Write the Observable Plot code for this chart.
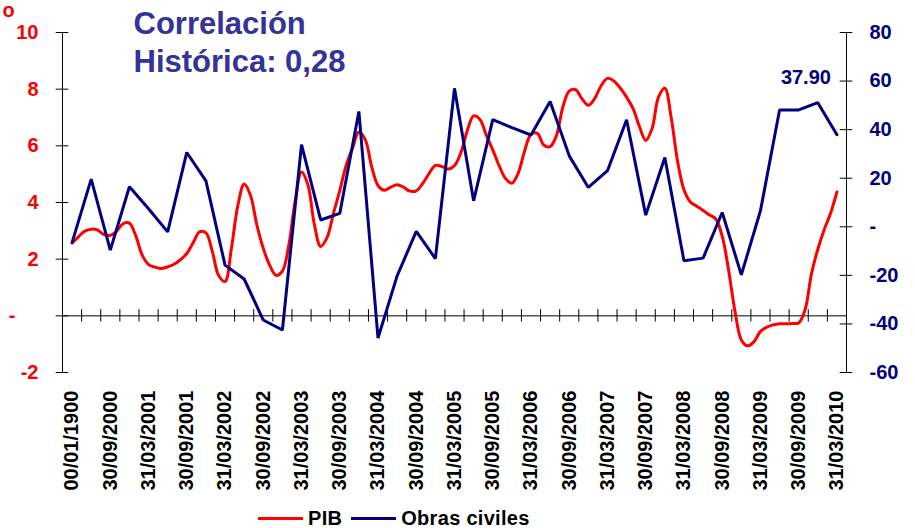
<!DOCTYPE html>
<html><head><meta charset="utf-8">
<script src="https://cdn.jsdelivr.net/npm/d3@7"></script>
<script src="https://cdn.jsdelivr.net/npm/@observablehq/plot@0.6"></script>
<style>
body{margin:0;background:#fff;font-family:"Liberation Sans",Arial,sans-serif;}
#wrap{position:relative;width:915px;height:528px;}
#legend{position:absolute;left:258px;top:508px;height:20px;line-height:20px;display:flex;align-items:center;font-weight:bold;font-size:20px;color:#000;}
#legend .sw{display:inline-block;width:45px;height:3px;margin-right:5px;}
#legend .item{display:flex;align-items:center;margin-right:9px;letter-spacing:0.3px;}
</style></head><body><div id="wrap"></div>
<script>
const quarters = [
  "00/01/1900","30/06/2000","30/09/2000","31/12/2000",
  "31/03/2001","30/06/2001","30/09/2001","31/12/2001",
  "31/03/2002","30/06/2002","30/09/2002","31/12/2002",
  "31/03/2003","30/06/2003","30/09/2003","31/12/2003",
  "31/03/2004","30/06/2004","30/09/2004","31/12/2004",
  "31/03/2005","30/06/2005","30/09/2005","31/12/2005",
  "31/03/2006","30/06/2006","30/09/2006","31/12/2006",
  "31/03/2007","30/06/2007","30/09/2007","31/12/2007",
  "31/03/2008","30/06/2008","30/09/2008","31/12/2008",
  "31/03/2009","30/06/2009","30/09/2009","31/12/2009",
  "31/03/2010"
];
const tickLabels = [
  "00/01/1900","30/09/2000","31/03/2001","30/09/2001","31/03/2002","30/09/2002",
  "31/03/2003","30/09/2003","31/03/2004","30/09/2004","31/03/2005","30/09/2005",
  "31/03/2006","30/09/2006","31/03/2007","30/09/2007","31/03/2008","30/09/2008",
  "31/03/2009","30/09/2009","31/03/2010"
];
// Obras civiles (right axis), one value per quarter
const obrasCiviles = [
  -6.5, 19.6, -9.6, 16.5, 7.4, -2.1, 30.6, 18.9,
  -15.8, -21.5, -38.4, -42.5, 33.8, 2.8, 5.5, 47.5,
  -45.8, -20.2, -1.9, -13.1, 57.0, 10.7, 44.1, 40.8,
  37.8, 51.6, 29.2, 16.2, 23.1, 44.1, 4.8, 28.5,
  -14.0, -12.9, 5.9, -19.8, 6.6, 48.1, 48.1, 51.1,
  37.9
];
// PIB (left axis), monthly values
const pib = [
  2.57, 2.79, 2.99, 3.06, 3.03, 2.87, 2.84, 2.99, 3.25, 3.27,
  2.82, 2.14, 1.81, 1.72, 1.67, 1.73, 1.82, 1.98, 2.20, 2.58,
  2.96, 2.93, 2.28, 1.42, 1.21, 2.38, 3.88, 4.65, 4.25, 3.20,
  2.38, 1.79, 1.43, 1.58, 2.49, 4.05, 5.08, 4.63, 3.24, 2.45,
  2.76, 3.61, 4.42, 5.31, 5.92, 6.49, 6.22, 5.27, 4.60, 4.43,
  4.54, 4.63, 4.54, 4.40, 4.41, 4.67, 5.02, 5.31, 5.27, 5.18,
  5.30, 5.76, 6.53, 7.06, 6.93, 6.37, 5.86, 5.30, 4.85, 4.68,
  5.04, 5.82, 6.40, 6.44, 6.03, 5.97, 6.37, 7.37, 7.93, 7.98,
  7.66, 7.43, 7.67, 8.12, 8.38, 8.29, 8.04, 7.72, 7.32, 6.69,
  6.19, 6.61, 7.72, 8.03, 6.99, 5.45, 4.45, 4.02, 3.87, 3.72,
  3.56, 3.42, 2.81, 1.62, 0.16, -0.85, -1.06, -0.91, -0.55, -0.40,
  -0.32, -0.28, -0.28, -0.27, -0.25, 0.21, 1.48, 2.35, 3.04, 3.62,
  4.37
];
const leftTicks = [10, 8, 6, 4, 2, 0, -2];
const rightTicks = [80, 60, 40, 20, 0, -20, -40, -60];
const titleLines = ["Correlación", "Histórica: 0,28"];
const lastLabel = "37.90";

const RED = "#ff0000", NAVY = "#000080", TITLE = "#333399";
const toLeft = v => -2 + (v + 60) * 12 / 140;
const n = quarters.length;
const boundaries = d3.range(n + 1).map(j => j - 0.5);
const font = "Liberation Sans, Arial, sans-serif";

const chart = Plot.plot({
  width: 915, height: 500,
  marginLeft: 62, marginRight: 69, marginTop: 32, marginBottom: 128,
  style: {fontFamily: font, background: "white"},
  x: {type: "linear", domain: [-0.5, n - 0.5], axis: null},
  y: {domain: [-2, 10], axis: null},
  marks: [
    // axes lines
    Plot.ruleY([0], {x1: -0.5, x2: n - 0.5, stroke: "black", strokeWidth: 1}),
    Plot.ruleX(boundaries, {x: d => d, y1: -0.22, y2: 0.22, stroke: "black", strokeWidth: 1}),
    Plot.ruleX([-0.5], {y1: -2, y2: 10, stroke: "black", strokeWidth: 1}),
    Plot.ruleX([n - 0.5], {y1: -2, y2: 10, stroke: "black", strokeWidth: 1}),
    Plot.ruleY(leftTicks, {y: d => d, x1: -0.83, x2: -0.17, stroke: "black", strokeWidth: 1}),
    Plot.ruleY(rightTicks, {y: d => toLeft(d), x1: n - 0.83, x2: n - 0.17, stroke: "black", strokeWidth: 1}),
    // left labels
    Plot.text(leftTicks.filter(d => d !== 0), {y: d => d, frameAnchor: "left", dx: -24, textAnchor: "end",
      lineAnchor: "middle", text: d => String(d), fill: RED, fontWeight: "bold", fontSize: 20}),
    Plot.text(leftTicks.filter(d => d === 0), {y: d => d, frameAnchor: "left", dx: -47, textAnchor: "end",
      lineAnchor: "middle", text: d => "-", fill: RED, fontWeight: "bold", fontSize: 20}),
    // right labels
    Plot.text(rightTicks, {y: d => toLeft(d), frameAnchor: "right", dx: 23, textAnchor: "start",
      lineAnchor: "middle", text: d => d === 0 ? "-" : String(d), fill: NAVY, fontWeight: "bold", fontSize: 20}),
    // x tick labels
    Plot.text(tickLabels, {x: (d, i) => 2 * i, frameAnchor: "bottom", dy: 18, rotate: -90,
      textAnchor: "end", lineAnchor: "middle", text: d => d, fill: "black", fontWeight: "bold", fontSize: 20}),
    // series
    Plot.line(pib, {x: (d, i) => i / 3, y: d => d, stroke: RED, strokeWidth: 3, curve: "catmull-rom"}),
    Plot.line(obrasCiviles, {x: (d, i) => i, y: d => toLeft(d), stroke: NAVY, strokeWidth: 3, strokeLinejoin: "miter"}),
    // last value label
    Plot.text([obrasCiviles[n - 1]], {x: n - 1, y: d => toLeft(d), dx: -6, dy: -57, textAnchor: "end",
      lineAnchor: "middle", text: () => lastLabel, fill: NAVY, fontWeight: "bold", fontSize: 20}),
    // title
    Plot.text([titleLines[0]], {frameAnchor: "top-left", dx: 71, dy: 1.3, textAnchor: "start", lineAnchor: "bottom",
      text: d => d, fill: TITLE, fontWeight: "bold", fontSize: 31, letterSpacing: "0.3px"}),
    Plot.text([titleLines[1]], {frameAnchor: "top-left", dx: 71, dy: 39.7, textAnchor: "start", lineAnchor: "bottom",
      text: d => d, fill: TITLE, fontWeight: "bold", fontSize: 31, letterSpacing: "0.3px"}),
    Plot.text(["o"], {frameAnchor: "top-left", dx: -54, dy: -15.5, textAnchor: "middle", lineAnchor: "bottom",
      text: d => d, fill: RED, fontWeight: "bold", fontSize: 20})
  ]
});
const wrap = document.getElementById("wrap");
wrap.appendChild(chart);
const legend = document.createElement("div");
legend.id = "legend";
legend.innerHTML =
  `<span class="item"><span class="sw" style="background:${RED}"></span>PIB</span>` +
  `<span class="item"><span class="sw" style="background:${NAVY}"></span>Obras civiles</span>`;
wrap.appendChild(legend);
</script>
</body></html>
